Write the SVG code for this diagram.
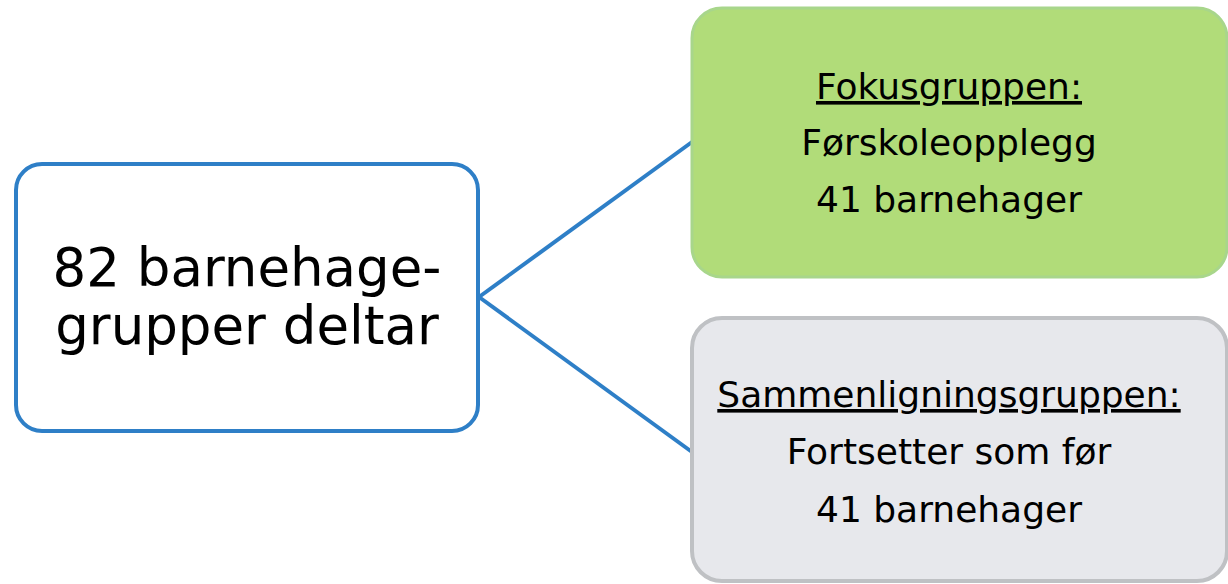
<svg xmlns="http://www.w3.org/2000/svg" width="1228" height="584" viewBox="0 0 1228 584">
<style>
text{font-family:"DejaVu Sans","Verdana",sans-serif;fill:#000;text-anchor:middle}
.big{font-size:53px}
.sm{font-size:36px}
.u{text-decoration:underline}
.conn{stroke:#2e7fc7;stroke-width:4;fill:none}
</style>
<rect width="1228" height="584" fill="#fff"/>
<g id="connectors">
<line class="conn" x1="479" y1="297" x2="692" y2="142"/>
<line class="conn" x1="479" y1="297" x2="692" y2="452"/>
</g>
<g id="node-main">
<rect x="16" y="164" width="462" height="267" rx="26" fill="#fff" stroke="#2e7fc7" stroke-width="4"/>
<text class="big" x="247" y="286">82 barnehage-</text>
<text class="big" x="247" y="344">grupper deltar</text>
</g>
<g id="node-fokus">
<rect x="692" y="8" width="535" height="269" rx="30" fill="#b1dc79" stroke="#a8d68b" stroke-width="3"/>
<text class="sm u" x="949" y="99">Fokusgruppen:</text>
<text class="sm" x="949" y="155">Førskoleopplegg</text>
<text class="sm" x="949" y="212">41 barnehager</text>
</g>
<g id="node-sammen">
<rect x="692" y="318" width="535" height="263" rx="30" fill="#e7e8ec" stroke="#bfc1c4" stroke-width="4"/>
<text class="sm u" x="949" y="407">Sammenligningsgruppen:</text>
<text class="sm" x="949" y="464">Fortsetter som før</text>
<text class="sm" x="949" y="522">41 barnehager</text>
</g>
</svg>
